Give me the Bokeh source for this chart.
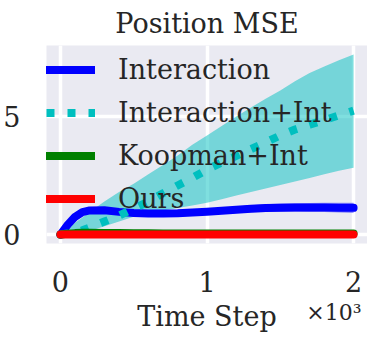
from bokeh.plotting import figure
from bokeh.models import FixedTicker, Legend, LegendItem, Range1d, Title
from bokeh.embed import file_html
from bokeh.resources import INLINE

# ---------------- data ----------------
steps = [0, 50, 100, 150, 200, 300, 400, 500, 600, 700, 800, 900, 1000,
         1100, 1200, 1300, 1400, 1500, 1600, 1700, 1800, 1900, 2000]

interaction = [0.0, 0.42, 0.75, 0.95, 1.02, 1.03, 0.96, 0.91, 0.89, 0.89, 0.90, 0.93, 0.97,
               1.01, 1.05, 1.09, 1.12, 1.14, 1.15, 1.15, 1.15, 1.14, 1.13]
interaction_lo = [0.0, 0.37, 0.68, 0.87, 0.94, 0.95, 0.88, 0.83, 0.80, 0.79, 0.80, 0.82, 0.85,
                  0.88, 0.91, 0.94, 0.96, 0.97, 0.97, 0.96, 0.95, 0.93, 0.91]
interaction_hi = [0.0, 0.47, 0.82, 1.03, 1.10, 1.11, 1.04, 0.99, 0.98, 0.99, 1.00, 1.04, 1.09,
                  1.14, 1.19, 1.24, 1.28, 1.31, 1.33, 1.34, 1.35, 1.35, 1.35]

interaction_int = [0.0, 0.04, 0.10, 0.18, 0.30, 0.55, 0.80, 1.10, 1.40, 1.75, 2.08, 2.40, 2.75,
                   3.05, 3.33, 3.62, 3.90, 4.20, 4.45, 4.65, 4.85, 5.05, 5.25]
interaction_int_lo = [0.0, 0.02, 0.05, 0.10, 0.15, 0.35, 0.55, 0.75, 0.90, 1.02, 1.12, 1.23, 1.35,
                      1.50, 1.65, 1.80, 1.95, 2.10, 2.25, 2.40, 2.55, 2.70, 2.83]
interaction_int_hi = [0.0, 0.25, 0.50, 0.72, 0.95, 1.40, 1.80, 2.15, 2.55, 2.95, 3.35, 3.80, 4.20,
                      4.60, 5.00, 5.38, 5.75, 6.10, 6.50, 6.85, 7.12, 7.38, 7.63]

koopman_int = [0.0, 0.03, 0.06, 0.08, 0.08, 0.07, 0.06, 0.05, 0.05, 0.04, 0.04, 0.04, 0.04,
               0.04, 0.04, 0.04, 0.04, 0.04, 0.04, 0.04, 0.04, 0.04, 0.04]

ours = [0.0, 0.0, 0.0, 0.0, 0.0, 0.0, 0.0, 0.0, 0.0, 0.0, 0.0, 0.0, 0.0,
        0.0, 0.0, 0.0, 0.0, 0.0, 0.0, 0.0, 0.0, 0.0, 0.0]

x_tick_vals = [0, 1000, 2000]
x_tick_labels = ["0", "1", "2"]
y_tick_vals = [0, 5]

labels = ["Interaction", "Interaction+Int", "Koopman+Int", "Ours"]

# ---------------- styling ----------------
FONT = "DejaVu Serif"
TXT = "#262626"
BG = "#EAEAF2"

p = figure(width=367, height=341, output_backend="svg", toolbar_location=None,
           x_range=Range1d(-95, 2095), y_range=Range1d(-0.38, 8.01),
           min_border_left=44, min_border_right=0, min_border_top=45, min_border_bottom=98)

p.background_fill_color = BG
p.border_fill_color = "white"
p.outline_line_color = None

p.title.text = "Position MSE"
p.title.text_font = FONT
p.title.text_font_size = "27px"
p.title.text_font_style = "normal"
p.title.text_color = TXT
p.title.align = "center"
p.title.vertical_align = "top"
p.title.standoff = 10
p.title.offset = 0

for ax in (p.xaxis[0], p.yaxis[0]):
    ax.axis_line_color = None
    ax.major_tick_line_color = None
    ax.minor_tick_line_color = None
    ax.major_tick_out = 0
    ax.major_tick_in = 0
    ax.major_label_text_font = FONT
    ax.major_label_text_font_size = "27px"
    ax.major_label_text_color = TXT

p.xaxis.ticker = FixedTicker(ticks=x_tick_vals)
p.xaxis.major_label_overrides = dict(zip(x_tick_vals, x_tick_labels))
p.xaxis.major_label_standoff = 27
p.xaxis.axis_label = "Time Step"
p.xaxis.axis_label_text_font = FONT
p.xaxis.axis_label_text_font_size = "27px"
p.xaxis.axis_label_text_font_style = "normal"
p.xaxis.axis_label_text_color = TXT
p.xaxis.axis_label_standoff = 6

p.yaxis.ticker = FixedTicker(ticks=y_tick_vals)
p.yaxis.major_label_standoff = 26

p.xgrid.ticker = FixedTicker(ticks=x_tick_vals)
p.ygrid.ticker = FixedTicker(ticks=y_tick_vals)
for g in (p.xgrid[0], p.ygrid[0]):
    g.grid_line_color = "white"
    g.grid_line_width = 3.5

# bands
p.varea(x=steps, y1=interaction_int_lo, y2=interaction_int_hi, fill_color="#00BFBF", fill_alpha=0.5)
p.varea(x=steps, y1=interaction_lo, y2=interaction_hi, fill_color="#0000FF", fill_alpha=0.4)

# lines
r1 = p.line(steps, interaction, line_color="#0000FF", line_width=8, line_cap="round", line_join="round")
r2 = p.line(steps, interaction_int, line_color="#00BFBF", line_width=8, line_dash="8 13", line_cap="butt")
r3 = p.line(steps, koopman_int, line_color="#008000", line_width=8, line_cap="round", line_join="round")
r4 = p.line(steps, ours, line_color="#FF0000", line_width=8, line_cap="round", line_join="round")

legend = Legend(items=[LegendItem(label=l, renderers=[r]) for l, r in zip(labels, [r1, r2, r3, r4])],
                location=(0, 29), glyph_width=49, glyph_height=31, label_height=31,
                label_standoff=23, spacing=12, padding=0, margin=0,
                background_fill_alpha=0, border_line_alpha=0,
                label_text_font=FONT, label_text_font_size="27px", label_text_color=TXT)
p.add_layout(legend)

# axis scale factor text, on the same row as the x-axis label
sci = Title(text="×10³", align="right", vertical_align="top", standoff=-70, offset=6,
            text_font=FONT, text_font_size="22px", text_font_style="normal", text_color=TXT)
p.add_layout(sci, "below")

open("out.html", "w").write(file_html(p, INLINE))
